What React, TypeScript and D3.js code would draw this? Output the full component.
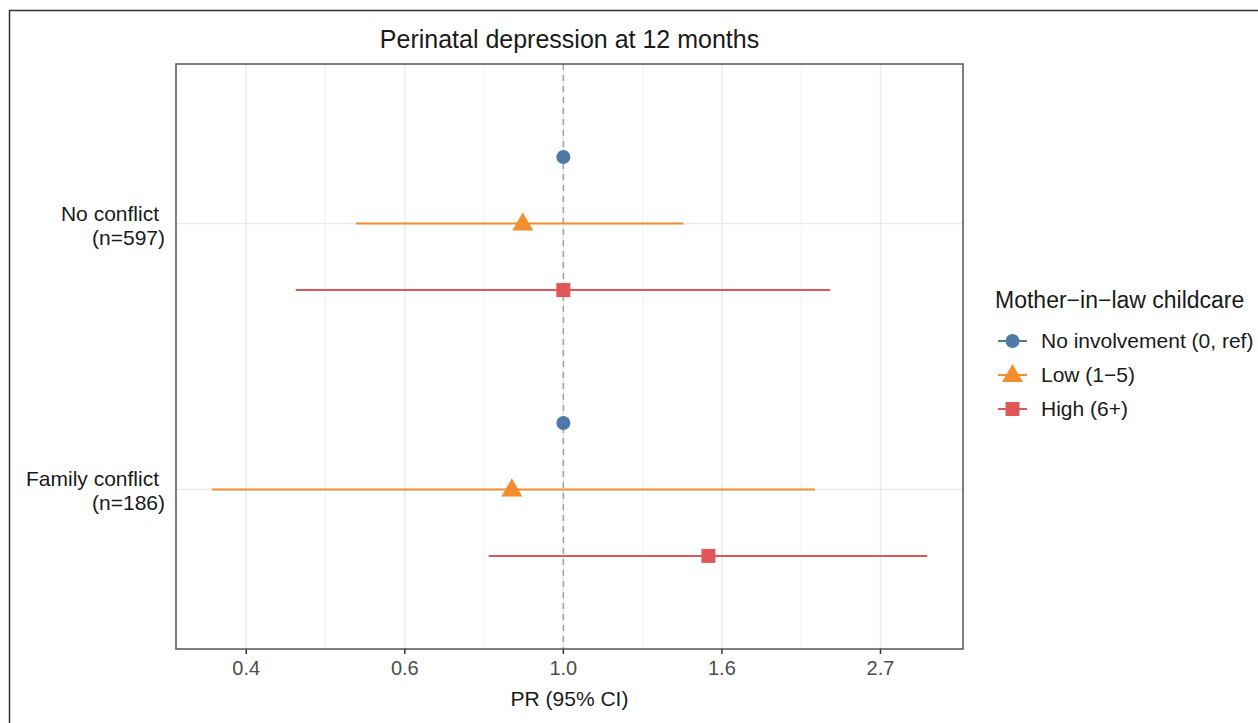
import React from 'react';
import * as d3 from 'd3';

// groups on the y axis
const groups = ['No conflict', 'Family conflict'];
const groupN = [597, 186];

// mother-in-law childcare levels
const levels = ['No involvement (0, ref)', 'Low (1\u22125)', 'High (6+)'];
const levelColors = ['#4E79A7', '#F28E2B', '#E15759'];
const levelShapes = ['circle', 'triangle', 'square'];

// prevalence ratios and 95% CI, one entry per level
const prNoConflict = [1.0, 0.88, 1.0];
const lowerNoConflict = [1.0, 0.52, 0.43];
const upperNoConflict = [1.0, 1.46, 2.32];

const prFamilyConflict = [1.0, 0.85, 1.58];
const lowerFamilyConflict = [1.0, 0.33, 0.79];
const upperFamilyConflict = [1.0, 2.21, 3.15];

// breaks at exp(-1), exp(-0.5), 1, exp(0.5), exp(1)
const logBreaks = [-1, -0.5, 0, 0.5, 1];

const W = 1258;
const H = 723;
const margin = { top: 64, left: 176, right: 963, bottom: 649 };
const FONT = '"Liberation Sans", Arial, Helvetica, sans-serif';

type Row = { group: string; level: number; pr: number; lo: number; hi: number };

const rows: Row[] = [
  ...levels.map((_, i) => ({ group: groups[0], level: i, pr: prNoConflict[i], lo: lowerNoConflict[i], hi: upperNoConflict[i] })),
  ...levels.map((_, i) => ({ group: groups[1], level: i, pr: prFamilyConflict[i], lo: lowerFamilyConflict[i], hi: upperFamilyConflict[i] })),
];

function Marker({ shape, x, y, color }: { shape: string; x: number; y: number; color: string }) {
  if (shape === 'circle') return <circle cx={x} cy={y} r={7} fill={color} />;
  if (shape === 'triangle') {
    const s = d3.symbol(d3.symbolTriangle, 190)();
    return <path d={s || ''} transform={`translate(${x},${y + 1})`} fill={color} />;
  }
  return <rect x={x - 7} y={y - 7} width={14} height={14} fill={color} />;
}

export default function App() {
  // log x scale with ggplot-style 5% expansion
  const lmin = Math.log(d3.min(rows, (d) => d.lo) as number);
  const lmax = Math.log(d3.max(rows, (d) => d.hi) as number);
  const pad = (lmax - lmin) * 0.05;
  const x = d3
    .scaleLog()
    .domain([Math.exp(lmin - pad), Math.exp(lmax + pad)])
    .range([margin.left, margin.right]);

  const y = d3.scalePoint().domain(groups).range([margin.top, margin.bottom]).padding(0.6);
  const dodge = y.step() * 0.75;
  const yOff = d3.scalePoint().domain(levels.map((_, i) => String(i))).range([-dodge / 3, dodge / 3]);

  const ticks = logBreaks.map(Math.exp);
  const minor = d3.range(logBreaks.length - 1).map((i) => Math.exp((logBreaks[i] + logBreaks[i + 1]) / 2));
  const fmt = d3.format('.1f');

  return (
    <svg width={W} height={H} style={{ position: 'absolute', left: 0, top: 0, background: '#fff' }} fontFamily={FONT}>
      <rect x={9.5} y={10.5} width={W + 20} height={H + 20} fill="none" stroke="#333" strokeWidth={1.5} />

      <text x={(margin.left + margin.right) / 2} y={48} textAnchor="middle" fontSize={25} fill="#1a1a1a">
        Perinatal depression at 12 months
      </text>

      {/* grid */}
      {minor.map((v, i) => (
        <line key={'mn' + i} x1={x(v)} x2={x(v)} y1={margin.top} y2={margin.bottom} stroke="#F2F2F2" strokeWidth={1} />
      ))}
      {ticks.map((v, i) => (
        <line key={'mj' + i} x1={x(v)} x2={x(v)} y1={margin.top} y2={margin.bottom} stroke="#EBEBEB" strokeWidth={1.5} />
      ))}
      {groups.map((g) => (
        <line key={g} x1={margin.left} x2={margin.right} y1={y(g)} y2={y(g)} stroke="#EBEBEB" strokeWidth={1.5} />
      ))}

      <line x1={x(1)} x2={x(1)} y1={margin.top} y2={margin.bottom} stroke="#A0A0A0" strokeWidth={1.5} strokeDasharray="6,5" />

      {/* error bars and points */}
      {rows.map((d, i) => {
        const cy = (y(d.group) as number) + (yOff(String(d.level)) as number);
        return (
          <g key={i}>
            {d.hi > d.lo && (
              <line x1={x(d.lo)} x2={x(d.hi)} y1={cy} y2={cy} stroke={levelColors[d.level]} strokeWidth={2} />
            )}
            <Marker shape={levelShapes[d.level]} x={x(d.pr)} y={cy} color={levelColors[d.level]} />
          </g>
        );
      })}

      <rect
        x={margin.left}
        y={margin.top}
        width={margin.right - margin.left}
        height={margin.bottom - margin.top}
        fill="none"
        stroke="#555"
        strokeWidth={1.5}
      />

      {/* x axis */}
      {ticks.map((v, i) => (
        <g key={'t' + i}>
          <line x1={x(v)} x2={x(v)} y1={margin.bottom} y2={margin.bottom + 5} stroke="#333" strokeWidth={1.5} />
          <text x={x(v)} y={margin.bottom + 26} textAnchor="middle" fontSize={20} fill="#4D4D4D">
            {fmt(v)}
          </text>
        </g>
      ))}
      <text x={(margin.left + margin.right) / 2} y={706} textAnchor="middle" fontSize={21} fill="#1a1a1a">
        PR (95% CI)
      </text>

      {/* y axis labels */}
      {groups.map((g, i) => (
        <text key={g} x={159} y={(y(g) as number) - 3} textAnchor="end" fontSize={21} fill="#1a1a1a">
          <tspan x={159}>{g}</tspan>
          <tspan x={165} dy={24}>{`(n=${groupN[i]})`}</tspan>
        </text>
      ))}

      {/* legend */}
      <text x={995} y={308} fontSize={23} fill="#1a1a1a">
        Mother{'\u2212'}in{'\u2212'}law childcare
      </text>
      {levels.map((l, i) => {
        const ly = 341 + i * 34;
        return (
          <g key={l}>
            <line x1={998} x2={1027} y1={ly} y2={ly} stroke={levelColors[i]} strokeWidth={2} />
            <Marker shape={levelShapes[i]} x={1012.5} y={ly} color={levelColors[i]} />
            <text x={1041} y={ly + 7} fontSize={21} fill="#1a1a1a">
              {l}
            </text>
          </g>
        );
      })}
    </svg>
  );
}
